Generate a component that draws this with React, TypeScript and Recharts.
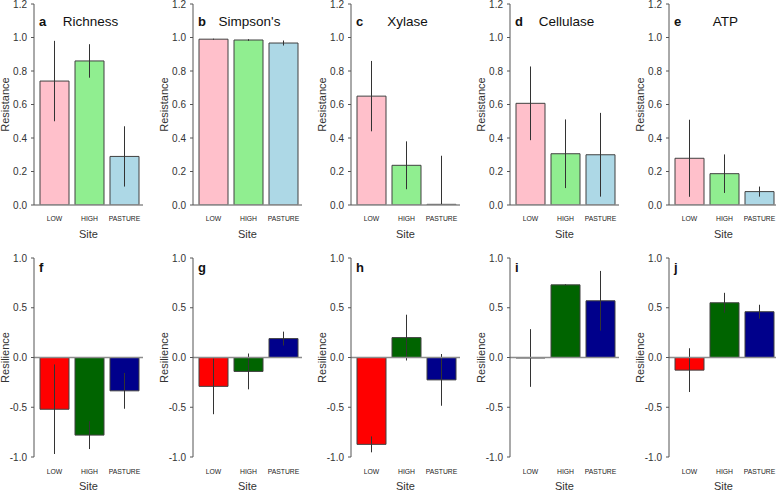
import { Bar, BarChart, Cell, ErrorBar, ReferenceLine, XAxis, YAxis } from "recharts";

const sites = ["LOW", "HIGH", "PASTURE"];
const letters = ["a", "b", "c", "d", "e", "f", "g", "h", "i", "j"];
const titles = ["Richness", "Simpson's", "Xylase", "Cellulase", "ATP"];

// resistance (top row), mean and standard error per site
const richnessRst = [0.74, 0.86, 0.29];
const richnessRstSe = [0.24, 0.1, 0.18];
const simpsonRst = [0.99, 0.985, 0.967];
const simpsonRstSe = [0.003, 0.005, 0.015];
const xylaseRst = [0.65, 0.237, 0.004];
const xylaseRstSe = [0.21, 0.143, 0.29];
const cellulaseRst = [0.607, 0.306, 0.3];
const cellulaseRstSe = [0.22, 0.205, 0.25];
const atpRst = [0.279, 0.187, 0.08];
const atpRstSe = [0.23, 0.115, 0.03];

// resilience (bottom row)
const richnessRsl = [-0.52, -0.78, -0.335];
const richnessRslSe = [0.45, 0.14, 0.18];
const simpsonRsl = [-0.29, -0.14, 0.19];
const simpsonRslSe = [0.28, 0.18, 0.07];
const xylaseRsl = [-0.873, 0.2, -0.225];
const xylaseRslSe = [0.08, 0.23, 0.26];
const cellulaseRsl = [-0.005, 0.73, 0.57];
const cellulaseRslSe = [0.29, 0.006, 0.3];
const atpRsl = [-0.127, 0.55, 0.46];
const atpRslSe = [0.22, 0.1, 0.07];

const resistanceTicks = [0, 0.2, 0.4, 0.6, 0.8, 1.0, 1.2];
const resilienceTicks = [-1, -0.5, 0, 0.5, 1];

const resistanceColors = ["#FFC0CB", "#90EE90", "#ADD8E6"];
const resilienceColors = ["#FF0000", "#006400", "#00008B"];

const FONT = "'Liberation Sans', Arial, sans-serif";
const PANEL_STEP = 158.7;
const AXIS_X = 34;
const PLOT_W = 109;
const CHART_W = 158;

type PanelProps = {
  letter: string;
  title?: string;
  means: number[];
  ses: number[];
  colors: string[];
  ticks: number[];
  yLabel: string;
  height: number;
  top: number;
  axisH: number;
  tickOffset: number;
  titleBase: number;
};

function Panel(p: PanelProps) {
  const lo = p.ticks[0];
  const data = sites.map((s, i) => ({
    site: s,
    mean: p.means[i],
    // lower whisker is cut at the bottom of the axis
    err: [Math.min(p.ses[i], p.means[i] - lo), p.ses[i]],
  }));
  return (
    <div style={{ position: "relative", width: CHART_W, height: p.height }}>
      <BarChart
        width={CHART_W}
        height={p.height}
        data={data}
        barCategoryGap={3}
        margin={{ top: p.top, right: CHART_W - AXIS_X - PLOT_W, bottom: 0, left: 0 }}
        style={{ fontFamily: FONT }}
      >
        <XAxis
          dataKey="site"
          axisLine={false}
          tickLine={false}
          tickSize={0}
          tickMargin={0}
          height={p.axisH}
          padding={{ left: 3, right: 1 }}
          interval={0}
          tick={(t: any) => (
            <text
              x={t.x}
              y={t.y + p.tickOffset}
              textAnchor="middle"
              dominantBaseline="central"
              fontSize={6.8}
              fill="#222"
              fontFamily={FONT}
            >
              {t.payload.value}
            </text>
          )}
          label={{
            content: ({ viewBox }: any) => (
              <text
                x={viewBox.x + viewBox.width / 2}
                y={viewBox.y + 29}
                textAnchor="middle"
                dominantBaseline="central"
                fontSize={11}
                fill="#333"
                fontFamily={FONT}
              >
                Site
              </text>
            ),
          }}
        />
        <YAxis
          domain={[p.ticks[0], p.ticks[p.ticks.length - 1]]}
          ticks={p.ticks}
          interval={0}
          allowDataOverflow
          width={AXIS_X}
          stroke="#555"
          tickSize={3}
          tickMargin={4}
          tick={{ fill: "#333", fontSize: 10, fontFamily: FONT }}
          tickFormatter={(v: number) => v.toFixed(1)}
          label={{
            content: ({ viewBox }: any) => {
              const cx = viewBox.x + 5;
              const cy = viewBox.y + viewBox.height / 2;
              return (
                <text
                  x={cx}
                  y={cy}
                  transform={`rotate(-90 ${cx} ${cy})`}
                  textAnchor="middle"
                  dominantBaseline="central"
                  fontSize={11}
                  fill="#333"
                  fontFamily={FONT}
                >
                  {p.yLabel}
                </text>
              );
            },
          }}
        />
        <Bar dataKey="mean" isAnimationActive={false} stroke="#404040" strokeWidth={1}>
          {data.map((d, i) => (
            <Cell key={d.site} fill={p.colors[i]} />
          ))}
          <ErrorBar dataKey="err" width={0} stroke="#333" strokeWidth={1} direction="y" />
        </Bar>
        <ReferenceLine y={0} stroke="#8c8c8c" strokeWidth={1.5} />
      </BarChart>
      <svg
        width={CHART_W}
        height={40}
        style={{ position: "absolute", left: 0, top: 0, pointerEvents: "none" }}
      >
        <text x={AXIS_X + 5} y={p.titleBase} fontSize={13} fontWeight="bold" fill="#111" fontFamily={FONT}>
          {p.letter}
        </text>
        {p.title && (
          <text
            x={AXIS_X + PLOT_W / 2 + 2}
            y={p.titleBase}
            textAnchor="middle"
            fontSize={13.5}
            fill="#111"
            fontFamily={FONT}
          >
            {p.title}
          </text>
        )}
      </svg>
    </div>
  );
}

const topMeans = [richnessRst, simpsonRst, xylaseRst, cellulaseRst, atpRst];
const topSes = [richnessRstSe, simpsonRstSe, xylaseRstSe, cellulaseRstSe, atpRstSe];
const bottomMeans = [richnessRsl, simpsonRsl, xylaseRsl, cellulaseRsl, atpRsl];
const bottomSes = [richnessRslSe, simpsonRslSe, xylaseRslSe, cellulaseRslSe, atpRslSe];

export default function App() {
  return (
    <div
      style={{
        position: "absolute",
        left: 0,
        top: 0,
        width: 776,
        height: 491,
        overflow: "hidden",
        background: "#fff",
      }}
    >
      {topMeans.map((m, i) => (
        <div key={"t" + i} style={{ position: "absolute", left: i * PANEL_STEP, top: 0 }}>
          <Panel
            letter={letters[i]}
            title={titles[i]}
            means={m}
            ses={topSes[i]}
            colors={resistanceColors}
            ticks={resistanceTicks}
            yLabel="Resistance"
            height={245}
            top={4}
            axisH={40}
            tickOffset={13}
            titleBase={26}
          />
        </div>
      ))}
      {bottomMeans.map((m, i) => (
        <div key={"b" + i} style={{ position: "absolute", left: i * PANEL_STEP, top: 245 }}>
          <Panel
            letter={letters[i + 5]}
            means={m}
            ses={bottomSes[i]}
            colors={resilienceColors}
            ticks={resilienceTicks}
            yLabel="Resilience"
            height={246}
            top={13}
            axisH={34}
            tickOffset={14.5}
            titleBase={27}
          />
        </div>
      ))}
    </div>
  );
}
